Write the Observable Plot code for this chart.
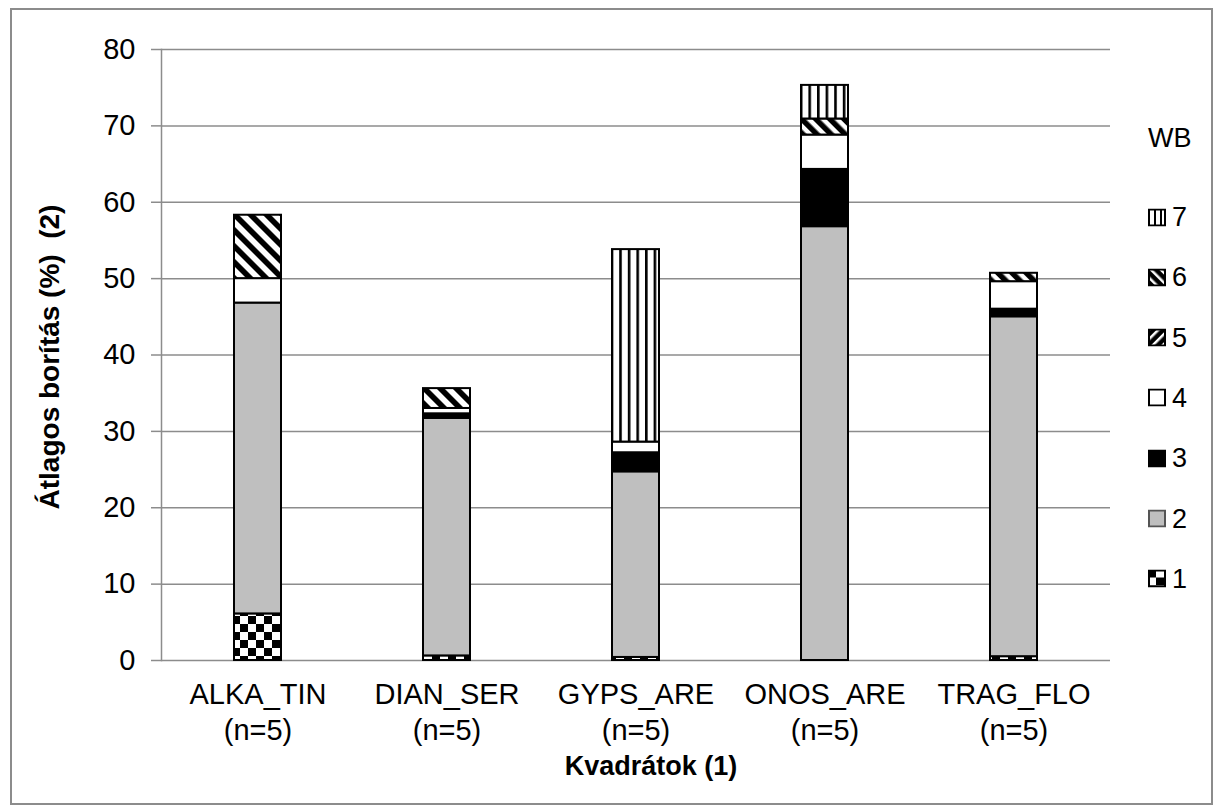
<!DOCTYPE html>
<html>
<head>
<meta charset="utf-8">
<script src="https://cdn.jsdelivr.net/npm/d3@7"></script>
<script src="https://cdn.jsdelivr.net/npm/@observablehq/plot@0.6"></script>
<style>
  html, body { margin: 0; padding: 0; background: #fff; }
  body { font-family: "Liberation Sans", Arial, sans-serif; color: #000; }
  #wrap { position: relative; width: 1220px; height: 812px; overflow: hidden; background: #fff; }
  #frame { position: absolute; left: 10px; top: 8px; width: 1203px; height: 797px; border: 2px solid #8c8c8c; box-sizing: border-box; pointer-events: none; }
  #chart { position: absolute; left: 0; top: 0; }
  .ytitle { position: absolute; left: 50px; top: 357px; transform: translate(-50%, -50%) rotate(-90deg); font-weight: bold; font-size: 28px; white-space: pre; line-height: 1; }
  .xtitle { position: absolute; left: 651px; top: 766px; transform: translate(-50%, -50%); font-weight: bold; font-size: 27px; white-space: pre; line-height: 1; }
  #legend { position: absolute; left: 1148px; top: 0; font-size: 27px; }
  #legend .title { position: absolute; left: 0; top: 138px; transform: translateY(-50%); }
  #legend .item { position: absolute; left: 0; display: flex; align-items: center; transform: translateY(-50%); }
  #legend .item svg { display: block; margin-right: 6px; }
</style>
</head>
<body>
<svg width="0" height="0" style="position:absolute">
  <defs>
    <pattern id="wb1" width="16" height="16" patternUnits="userSpaceOnUse">
      <rect width="16" height="16" fill="#fff"/>
      <rect width="8" height="8" fill="#000"/>
      <rect x="8" y="8" width="8" height="8" fill="#000"/>
    </pattern>
    <pattern id="wb2" width="8" height="8" patternUnits="userSpaceOnUse">
      <rect width="8" height="8" fill="#bfbfbf"/>
    </pattern>
    <pattern id="wb3" width="8" height="8" patternUnits="userSpaceOnUse">
      <rect width="8" height="8" fill="#000"/>
    </pattern>
    <pattern id="wb4" width="8" height="8" patternUnits="userSpaceOnUse">
      <rect width="8" height="8" fill="#fff"/>
    </pattern>
    <pattern id="wb5" width="10" height="10" patternUnits="userSpaceOnUse" patternTransform="rotate(-45)">
      <rect width="10" height="10" fill="#fff"/>
      <rect width="5.5" height="10" fill="#000"/>
    </pattern>
    <pattern id="wb6" width="11.3" height="11.3" patternUnits="userSpaceOnUse" patternTransform="rotate(-45)">
      <rect width="11.3" height="11.3" fill="#fff"/>
      <rect width="5.6" height="11.3" fill="#000"/>
    </pattern>
    <pattern id="wb7" width="8.6" height="8.6" patternUnits="userSpaceOnUse">
      <rect width="8.6" height="8.6" fill="#fff"/>
      <rect width="2.6" height="8.6" fill="#000"/>
    </pattern>
    <pattern id="wb5L" width="7" height="7" patternUnits="userSpaceOnUse" patternTransform="rotate(45)">
      <rect width="7" height="7" fill="#000"/>
      <rect width="2.5" height="7" fill="#fff"/>
    </pattern>
    <pattern id="wb6L" width="7" height="7" patternUnits="userSpaceOnUse" patternTransform="rotate(-45)">
      <rect width="7" height="7" fill="#000"/>
      <rect width="2.5" height="7" fill="#fff"/>
    </pattern>
    <pattern id="wb7L" width="6" height="6" patternUnits="userSpaceOnUse">
      <rect width="6" height="6" fill="#fff"/>
      <rect width="2" height="6" fill="#000"/>
    </pattern>
  </defs>
</svg>
<div id="wrap">
  <div id="chart"></div>
  <div class="ytitle">Átlagos borítás (%)  (2)</div>
  <div class="xtitle">Kvadrátok (1)</div>
  <div id="legend"></div>
  <div id="frame"></div>
</div>
<script>
// ---- data ----
const categories = ["ALKA_TIN", "DIAN_SER", "GYPS_ARE", "ONOS_ARE", "TRAG_FLO"];
const sampleSizes = [5, 5, 5, 5, 5];
const wbClasses = [1, 2, 3, 4, 5, 6, 7];
const wb1 = [6.1, 0.6, 0.4, 0.0, 0.5];
const wb2 = [40.7, 31.1, 24.3, 56.8, 44.5];
const wb3 = [0.0, 0.6, 2.5, 7.5, 1.0];
const wb4 = [3.2, 0.7, 1.4, 4.5, 3.6];
const wb5 = [0.0, 0.0, 0.0, 2.1, 1.1];
const wb6 = [8.3, 2.6, 0.0, 0.0, 0.0];
const wb7 = [0.0, 0.0, 25.2, 4.4, 0.0];
const yTicks = [0, 10, 20, 30, 40, 50, 60, 70, 80];
const legendTitle = "WB";

const seriesValues = [wb1, wb2, wb3, wb4, wb5, wb6, wb7];
const rows = [];
categories.forEach((cat, i) => {
  wbClasses.forEach((wb, k) => {
    const v = seriesValues[k][i];
    if (v > 0) rows.push({cat, wb, value: v});
  });
});
const nByCat = new Map(categories.map((c, i) => [c, sampleSizes[i]]));

const gridColor = "#8c8c8c";

const plot = Plot.plot({
  width: 1220,
  height: 812,
  marginLeft: 161,
  marginRight: 110,
  marginTop: 49,
  marginBottom: 152,
  style: {fontFamily: "'Liberation Sans', Arial, sans-serif", fontSize: "29px", color: "#000", background: "transparent"},
  x: {domain: categories, paddingInner: 0.75, paddingOuter: 0.375, label: null},
  y: {domain: [0, 80], label: null},
  color: {type: "ordinal", domain: wbClasses, range: wbClasses.map(k => `url(#wb${k})`)},
  marks: [
    Plot.ruleY(yTicks, {stroke: gridColor, strokeWidth: 1.5}),
    Plot.frame({anchor: "left", stroke: gridColor, strokeWidth: 1.5}),
    Plot.axisY(yTicks, {tickSize: 10, tickPadding: 16, stroke: gridColor, strokeWidth: 1.5, fontSize: 29, label: null}),
    Plot.axisX({tickSize: 0, tickPadding: 18, fontSize: 29, lineHeight: 1.25,
      tickFormat: d => `${d}\n(n=${nByCat.get(d)})`, label: null}),
    Plot.barY(rows, {x: "cat", y: "value", fill: "wb", stroke: "#000", strokeWidth: 2})
  ]
});
document.getElementById("chart").appendChild(plot);

// ---- legend ----
const legend = document.getElementById("legend");
const t = document.createElement("div");
t.className = "title";
t.textContent = legendTitle;
legend.appendChild(t);
const legendOrder = wbClasses.slice().reverse();
const iconFill = {1: "url(#wb1)", 2: "#bfbfbf", 3: "#000", 4: "#fff", 5: "url(#wb5L)", 6: "url(#wb6L)", 7: "url(#wb7L)"};
legendOrder.forEach((wb, i) => {
  const item = document.createElement("div");
  item.className = "item";
  item.style.top = (217 + i * 60.3) + "px";
  item.innerHTML = `<svg width="18" height="18"><rect x="1" y="1" width="16" height="16" fill="${iconFill[wb]}" stroke="${wb === 2 ? '#555' : '#000'}" stroke-width="2"/></svg><span>${wb}</span>`;
  legend.appendChild(item);
});
</script>
</body>
</html>
